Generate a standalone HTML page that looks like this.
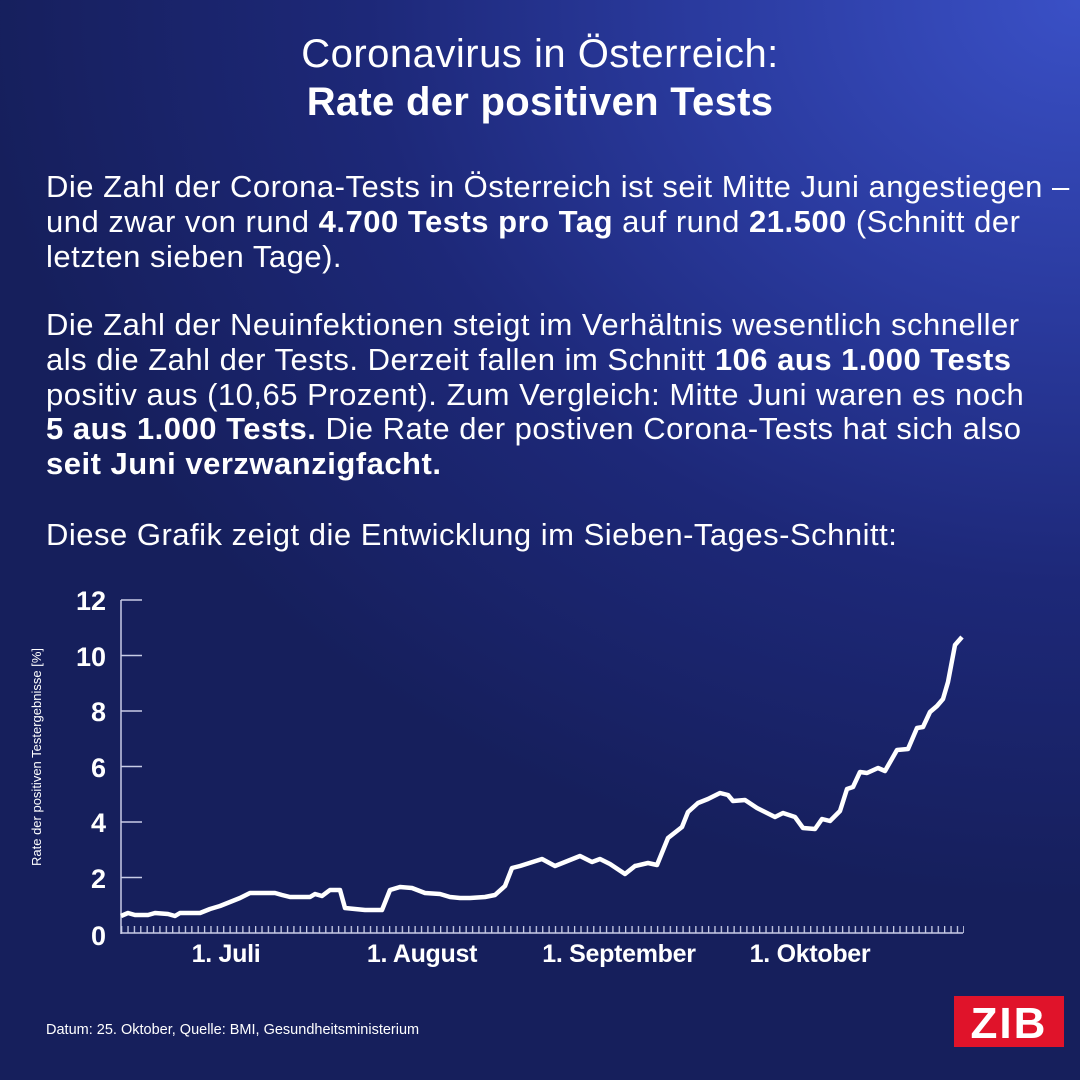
<!DOCTYPE html>
<html><head><meta charset="utf-8"><style>
html,body{margin:0;padding:0}
body{width:1080px;height:1080px;overflow:hidden;position:relative;font-family:"Liberation Sans",sans-serif;color:#fff;
background:radial-gradient(ellipse 1100px 900px at 100% 0%,#3a50c6 0%,#2a3a9e 35%,#1d2878 65%,#161f5c 100%);}
.t{position:absolute;left:0;width:1080px;text-align:center;font-size:40px;letter-spacing:0.5px}
.p{position:absolute;left:46px;font-size:31px;line-height:34.8px;letter-spacing:0.5px;white-space:nowrap}
b{font-weight:bold}
</style></head><body>
<div class="t" style="top:32px">Coronavirus in Österreich:</div>
<div class="t" style="top:80px;font-weight:bold;letter-spacing:0.3px">Rate der positiven Tests</div>
<div class="p" style="top:170px">Die Zahl der Corona-Tests in Österreich ist seit Mitte Juni angestiegen –<br>und zwar von rund <b>4.700 Tests pro Tag</b> auf rund <b>21.500</b> (Schnitt der<br>letzten sieben Tage).</div>
<div class="p" style="top:308px">Die Zahl der Neuinfektionen steigt im Verhältnis wesentlich schneller<br>als die Zahl der Tests. Derzeit fallen im Schnitt <b>106 aus 1.000 Tests</b><br>positiv aus (10,65 Prozent). Zum Vergleich: Mitte Juni waren es noch<br><b>5 aus 1.000 Tests.</b> Die Rate der postiven Corona-Tests hat sich also<br><b>seit Juni verzwanzigfacht.</b></div>
<div class="p" style="top:518px">Diese Grafik zeigt die Entwicklung im Sieben-Tages-Schnitt:</div>
<svg width="1080" height="1080" style="position:absolute;left:0;top:0" font-family="Liberation Sans, sans-serif">
<defs><pattern id="tk" x="121" y="0" width="6.38" height="20" patternUnits="userSpaceOnUse"><rect x="0" y="0" width="1.3" height="20" fill="#c8cce6"/></pattern></defs>
<g stroke="#c8cce6" stroke-width="1.5" fill="none">
<line x1="121" y1="600" x2="121" y2="934"/>
<line x1="121" y1="933" x2="963" y2="933"/>
<line x1="121" y1="600" x2="142" y2="600"/><line x1="121" y1="655.5" x2="142" y2="655.5"/><line x1="121" y1="711" x2="142" y2="711"/><line x1="121" y1="766.5" x2="142" y2="766.5"/><line x1="121" y1="822" x2="142" y2="822"/><line x1="121" y1="877.5" x2="142" y2="877.5"/>
</g>
<rect x="121" y="926" width="843" height="7" fill="url(#tk)"/>
<g font-weight="bold" font-size="27" fill="#fff" text-anchor="end">
<text x="106" y="610">12</text><text x="106" y="666">10</text><text x="106" y="721">8</text><text x="106" y="777">6</text><text x="106" y="832">4</text><text x="106" y="888">2</text><text x="106" y="945">0</text>
</g>
<g font-weight="bold" font-size="25" fill="#fff" text-anchor="middle" letter-spacing="-0.3">
<text x="226" y="962">1. Juli</text><text x="422" y="962">1. August</text><text x="619" y="962">1. September</text><text x="810" y="962">1. Oktober</text>
</g>
<text transform="translate(41,757) rotate(-90)" text-anchor="middle" font-size="13" fill="#fff">Rate der positiven Testergebnisse [%]</text>
<polyline fill="none" stroke="#fff" stroke-width="4.5" stroke-linejoin="round" points="121,916 128,913 135,915 148,915 155,913 168,914 175,916 180,913 200,913 210,909 220,906 230,902 240,898 250,893 260,893 275,893 282,895 290,897 310,897 315,894 322,896 330,890 340,890 345,908 355,909 365,910 382,910 390,890 400,887 412,888 425,893 440,894 450,897 460,898 470,898 485,897 495,895 505,886 512,868 520,866 542,859 555,866 580,856 592,862 600,859 610,864 625,874 635,866 648,863 657,865 668,838 682,827 688,812 698,803 708,799 720,793 728,795 733,801 745,800 757,808 775,817 783,813 795,817 803,828 815,829 822,819 830,821 840,811 847,789 853,787 860,772 867,773 878,768 885,771 897,750 908,749 917,728 923,727 930,712 937,706 943,699 948,682 955,645 962,637"/>
<text x="46" y="1034" font-size="14.5" fill="#fff">Datum: 25. Oktober, Quelle: BMI, Gesundheitsministerium</text>
<rect x="954" y="996" width="110" height="51" fill="#e0132a"/>
<text x="1009" y="1038" text-anchor="middle" font-weight="bold" font-size="44" fill="#fff" letter-spacing="2">ZIB</text>
</svg>
</body></html>
